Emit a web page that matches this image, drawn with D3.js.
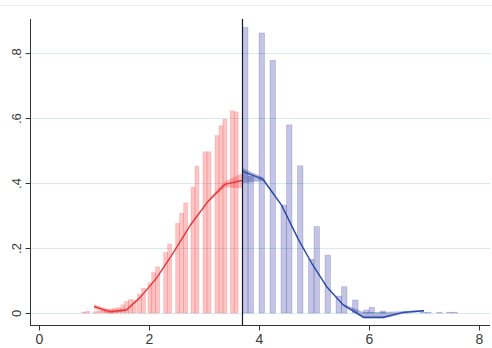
<!DOCTYPE html>
<html>
<head>
<meta charset="utf-8">
<script src="https://cdn.jsdelivr.net/npm/d3@7"></script>
<style>
  body { margin: 0; background: #fff; }
  text { font-family: Arial, "Liberation Sans", sans-serif; fill: #3a3a3a; }
</style>
</head>
<body>
<script>
// red histogram (left of cutoff): bin left edge, density
const redX = [0.776, 0.849, 0.987, 1.06, 1.13, 1.2, 1.273, 1.345, 1.418, 1.49, 1.555, 1.625, 1.696,
              1.79, 1.864, 1.982, 2.049, 2.12, 2.267, 2.34, 2.485, 2.558, 2.631, 2.764, 2.836,
              2.982, 3.055, 3.2, 3.273, 3.345, 3.478, 3.551];
const redY = [0.003, 0.005, 0.004, 0.006, 0.008, 0.01, 0.012, 0.014, 0.016, 0.025, 0.035, 0.041, 0.04,
              0.058, 0.076, 0.093, 0.124, 0.142, 0.186, 0.212, 0.276, 0.307, 0.339, 0.387, 0.452,
              0.496, 0.496, 0.546, 0.576, 0.596, 0.622, 0.619];
const redW = 0.0715;

// blue histogram (right of cutoff)
const blueX = [3.7, 3.8, 4.0, 4.2, 4.4, 4.5, 4.7, 4.9, 5.0, 5.2, 5.4, 5.5, 5.7, 5.9, 6.0, 6.2,
               6.6, 6.93, 7.03, 7.23, 7.41, 7.51];
const blueY = [0.879, 0.42, 0.862, 0.778, 0.332, 0.579, 0.453, 0.165, 0.266, 0.178, 0.052, 0.081,
               0.04, 0.009, 0.0175, 0.006, 0.003, 0.002, 0.002, 0.002, 0.002, 0.002];
const blueW = 0.1;

// local polynomial fits with confidence bands
const redFitX  = [1.0, 1.29, 1.59, 1.84, 2.14, 2.44, 2.75, 3.08, 3.38, 3.69];
const redFitY  = [0.02, 0.004, 0.009, 0.048, 0.108, 0.185, 0.27, 0.345, 0.396, 0.408];
const redLo    = [0.013, -0.002, 0.005, 0.046, 0.106, 0.183, 0.268, 0.342, 0.387, 0.384];
const redHi    = [0.027, 0.01, 0.014, 0.05, 0.11, 0.187, 0.272, 0.348, 0.405, 0.43];

const blueFitX = [3.7, 4.07, 4.41, 4.72, 4.96, 5.23, 5.53, 5.9, 6.26, 6.62, 7.0];
const blueFitY = [0.436, 0.412, 0.332, 0.225, 0.153, 0.081, 0.025, -0.013, -0.013, 0.002, 0.007];
const blueLo   = [0.4, 0.406, 0.33, 0.223, 0.151, 0.079, 0.022, -0.018, -0.018, -0.002, 0.004];
const blueHi   = [0.446, 0.418, 0.334, 0.227, 0.155, 0.083, 0.028, 0.003, 0.003, 0.005, 0.01];

const cutoff = 3.69;
const xTicks = [0, 2, 4, 6, 8];
const yTicks = [0, 0.2, 0.4, 0.6, 0.8];
const yLabels = ["0", ".2", ".4", ".6", ".8"];

const width = 492, height = 348;
const svg = d3.select("body").append("svg")
    .attr("width", width)
    .attr("height", height);

const x = d3.scaleLinear().domain([-0.1636, 8.2]).range([30, 490]);
const y = d3.scaleLinear().domain([-0.037, 0.905]).range([325, 19]);

// faint outer frame line
svg.append("line")
  .attr("x1", 0).attr("x2", width).attr("y1", 5.5).attr("y2", 5.5)
  .attr("stroke", "#ececec").attr("stroke-width", 1);

// gridlines
svg.append("g")
  .selectAll("line")
  .data(yTicks)
  .join("line")
    .attr("x1", 30).attr("x2", 490)
    .attr("y1", d => Math.round(y(d)) + 0.5)
    .attr("y2", d => Math.round(y(d)) + 0.5)
    .attr("stroke", "#d6ebf1")
    .attr("stroke-width", 1);

// histograms
const bars = (xs, ys, w, fill, stroke) => {
  svg.append("g")
    .selectAll("rect")
    .data(xs.map((d, i) => ({x0: d, h: ys[i]})))
    .join("rect")
      .attr("x", d => x(d.x0))
      .attr("width", x(w) - x(0))
      .attr("y", d => y(d.h))
      .attr("height", d => y(0) - y(d.h))
      .attr("fill", fill)
      .attr("stroke", stroke)
      .attr("stroke-width", 0.8);
};
bars(redX, redY, redW, "rgba(255,40,40,0.27)", "rgba(230,60,60,0.22)");
bars(blueX, blueY, blueW, "rgba(0,0,139,0.23)", "rgba(0,0,139,0.18)");

// bands and fit lines
const area = d3.area()
  .x(d => x(d.x))
  .y0(d => y(d.lo))
  .y1(d => y(d.hi));
const line = d3.line()
  .x(d => x(d.x))
  .y(d => y(d.y));

const fit = (xs, ys, lo, hi, bandColor, lineColor) => {
  const pts = xs.map((d, i) => ({x: d, y: ys[i], lo: lo[i], hi: hi[i]}));
  svg.append("path").datum(pts)
    .attr("d", area)
    .attr("fill", bandColor);
  svg.append("path").datum(pts)
    .attr("d", line)
    .attr("fill", "none")
    .attr("stroke", lineColor)
    .attr("stroke-width", 1.4)
    .attr("stroke-linejoin", "round");
};
fit(redFitX, redFitY, redLo, redHi, "rgba(235,40,40,0.3)", "#e8383b");
fit(blueFitX, blueFitY, blueLo, blueHi, "rgba(30,50,150,0.35)", "#2a4aa6");

// cutoff line
svg.append("line")
  .attr("x1", Math.round(x(cutoff)) + 0.5).attr("x2", Math.round(x(cutoff)) + 0.5)
  .attr("y1", 19).attr("y2", 325)
  .attr("stroke", "#15152e").attr("stroke-width", 1.2);

// axes
const xAxis = svg.append("g")
  .attr("transform", "translate(0,325.5)")
  .call(d3.axisBottom(x).tickValues(xTicks).tickSize(5).tickPadding(4).tickFormat(d3.format("d")));
xAxis.select(".domain").attr("d", "M30,0H490");

const yAxis = svg.append("g")
  .attr("transform", "translate(30.5,0)")
  .call(d3.axisLeft(y).tickValues(yTicks).tickSize(5).tickFormat((d, i) => yLabels[i]));
yAxis.select(".domain").attr("d", "M0,19V325");

svg.selectAll(".domain").attr("stroke", "#333");
svg.selectAll(".tick line").attr("stroke", "#333");
xAxis.selectAll("text").attr("font-size", 14).attr("fill", "#3a3a3a");
yAxis.selectAll(".tick text")
  .attr("font-size", 13)
  .attr("fill", "#3a3a3a")
  .attr("x", null).attr("dy", null)
  .attr("text-anchor", "middle")
  .attr("transform", "translate(-10,0) rotate(-90)");
</script>
</body>
</html>
